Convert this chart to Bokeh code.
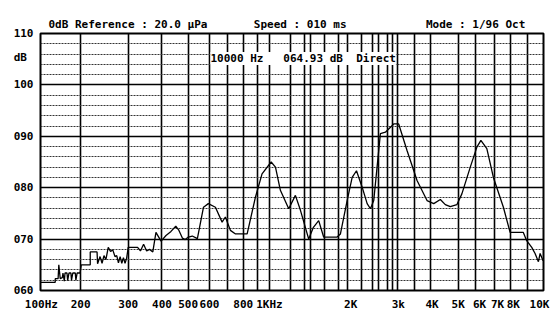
from bokeh.plotting import figure
from bokeh.models import Range1d, FixedTicker, Label, Title
from bokeh.embed import file_html
from bokeh.resources import INLINE

# ---- data ----
freq_hz = [142, 161, 161, 165, 166, 168, 171, 172, 174, 175, 178, 179, 181, 184, 185, 187,
           191, 192, 194, 199, 201, 217, 217, 230, 231, 236, 240, 244, 248, 253, 258, 263,
           268, 272, 276, 280, 284, 288, 292, 296, 300, 325, 333, 342, 351, 360, 370, 380,
           397, 414, 432, 450, 461, 476, 488, 501, 518, 541, 570, 594, 631, 668, 687, 717,
           749, 827, 888, 939, 1015, 1053, 1098, 1179, 1248, 1303, 1398, 1455, 1522, 1588,
           1781, 1832, 1940, 2025, 2101, 2205, 2301, 2366, 2434, 2504, 2576, 2688, 2887,
           3011, 3235, 3521, 3834, 4060, 4295, 4480, 4674, 4944, 5160, 5544, 5865, 6068,
           6384, 6752, 7352, 7785, 8714, 8968, 9364, 9633, 9910, 10055, 10310]
level_db = [61.6, 61.6, 62.3, 62.3, 65.0, 62.3, 62.5, 63.4, 61.8, 63.4, 63.4, 61.9, 63.4, 63.4, 62.0, 63.4,
            63.4, 62.0, 63.4, 63.4, 65.0, 65.0, 67.5, 67.5, 65.2, 66.6, 65.3, 66.8, 66.0, 68.4, 67.6, 67.9,
            66.6, 66.8, 65.4, 66.6, 65.3, 66.4, 65.3, 66.3, 68.4, 68.4, 67.7, 69.0, 67.7, 68.0, 67.5, 71.3,
            69.6, 70.7, 71.5, 72.5, 71.8, 70.2, 69.9, 70.4, 70.6, 70.1, 76.2, 76.9, 76.2, 73.3, 74.3, 71.7,
            71.0, 71.0, 78.2, 82.7, 85.0, 84.0, 79.5, 75.9, 78.5, 75.6, 70.0, 72.3, 73.6, 70.4,
            70.4, 71.0, 77.5, 82.0, 83.3, 80.1, 76.9, 75.9, 77.5, 84.0, 90.5, 90.8, 92.4,
            92.4, 87.2, 81.4, 77.5, 76.9, 77.7, 76.7, 76.3, 76.7, 78.8, 84.0, 87.9, 89.2,
            87.6, 82.0, 76.2, 71.3, 71.3, 69.7, 68.4, 67.2, 65.6, 67.2, 65.8]

x_tick_freqs = [143, 200, 300, 400, 500, 600, 800, 1000, 2000, 3000, 4000, 5000, 6000, 7000, 8000, 10000]
x_tick_labels = ["100Hz", "200", "300", "400", "500", "600", "800", "1KHz", "2K", "3k",
                 "4K", "5K", "6K", "7K", "8K", "10K"]
grid_freqs = [200, 300, 400, 500, 600, 700, 800, 900, 1000, 1200, 1350, 1420, 1600, 1800, 1950,
              2200, 2400, 2530, 2730, 2850, 2970, 3450, 3950, 5000, 5800, 6800, 7800, 9000]
y_ticks = [60, 70, 80, 90, 100, 110]
y_tick_labels = ["060", "070", "080", "090", "100", "110"]
y_unit_pos = 105.4
y_unit_label = "dB\u00a0"
y_minor = [62, 64, 66, 68, 72, 74, 76, 78, 82, 84, 86, 88, 92, 94, 96, 98, 102, 104, 106, 108]

NB = "\u00a0"
header = ("0dB Reference : 20.0 \u03bcPa" + NB * 7 + "Speed : 010 ms" + NB * 12 + "Mode : 1/96 Oct").replace(" ", NB)
readout = ("10000 Hz" + NB * 3 + "064.93 dB" + NB * 2 + "Direct").replace(" ", NB)

FONT = "DejaVu Sans Mono"

p = figure(width=553, height=315, x_axis_type="log",
           x_range=Range1d(142, 10350), y_range=Range1d(60, 110),
           output_backend="svg", toolbar_location=None,
           min_border_left=40, min_border_right=10, min_border_top=33, min_border_bottom=25)
p.background_fill_color = "white"
p.border_fill_color = "white"
p.outline_line_color = "black"
p.outline_line_width = 2

p.add_layout(Title(text=header, align="left", offset=8, standoff=5,
                   text_font=FONT, text_font_style="bold", text_font_size="11px",
                   text_color="black"), "above")

# grids
p.xgrid.ticker = FixedTicker(ticks=grid_freqs)
p.xgrid.grid_line_color = "black"
p.xgrid.grid_line_width = 1.6
p.ygrid.ticker = FixedTicker(ticks=y_ticks, minor_ticks=y_minor)
p.ygrid.grid_line_color = "black"
p.ygrid.grid_line_width = 1.6
p.ygrid.minor_grid_line_color = "#333333"
p.ygrid.minor_grid_line_dash = "2 1"
p.ygrid.minor_grid_line_width = 1

# axes
for ax in (p.xaxis[0], p.yaxis[0]):
    ax.axis_line_color = None
    ax.major_tick_out = 0
    ax.major_tick_in = 0
    ax.minor_tick_out = 0
    ax.minor_tick_in = 0
    ax.major_label_text_font = FONT
    ax.major_label_text_font_style = "bold"
    ax.major_label_text_font_size = "11px"
    ax.major_label_text_color = "black"

p.xaxis.ticker = FixedTicker(ticks=x_tick_freqs)
p.xaxis.major_label_overrides = {f: l for f, l in zip(x_tick_freqs, x_tick_labels)}
p.xaxis.major_label_standoff = 7
p.yaxis.ticker = FixedTicker(ticks=y_ticks + [y_unit_pos])
ov = {v: l for v, l in zip(y_ticks, y_tick_labels)}
ov[y_unit_pos] = y_unit_label
p.yaxis.major_label_overrides = ov
p.yaxis.major_label_standoff = 7

# curve
p.line(freq_hz, level_db, line_color="black", line_width=1.3)

# cursor readout
p.add_layout(Label(x=170, y=232, x_units="screen", y_units="screen", text=readout,
                   text_font=FONT, text_font_style="bold", text_font_size="11px",
                   text_color="black", text_baseline="alphabetic",
                   background_fill_color="white", background_fill_alpha=1.0))

open("out.html", "w").write(file_html(p, INLINE))
